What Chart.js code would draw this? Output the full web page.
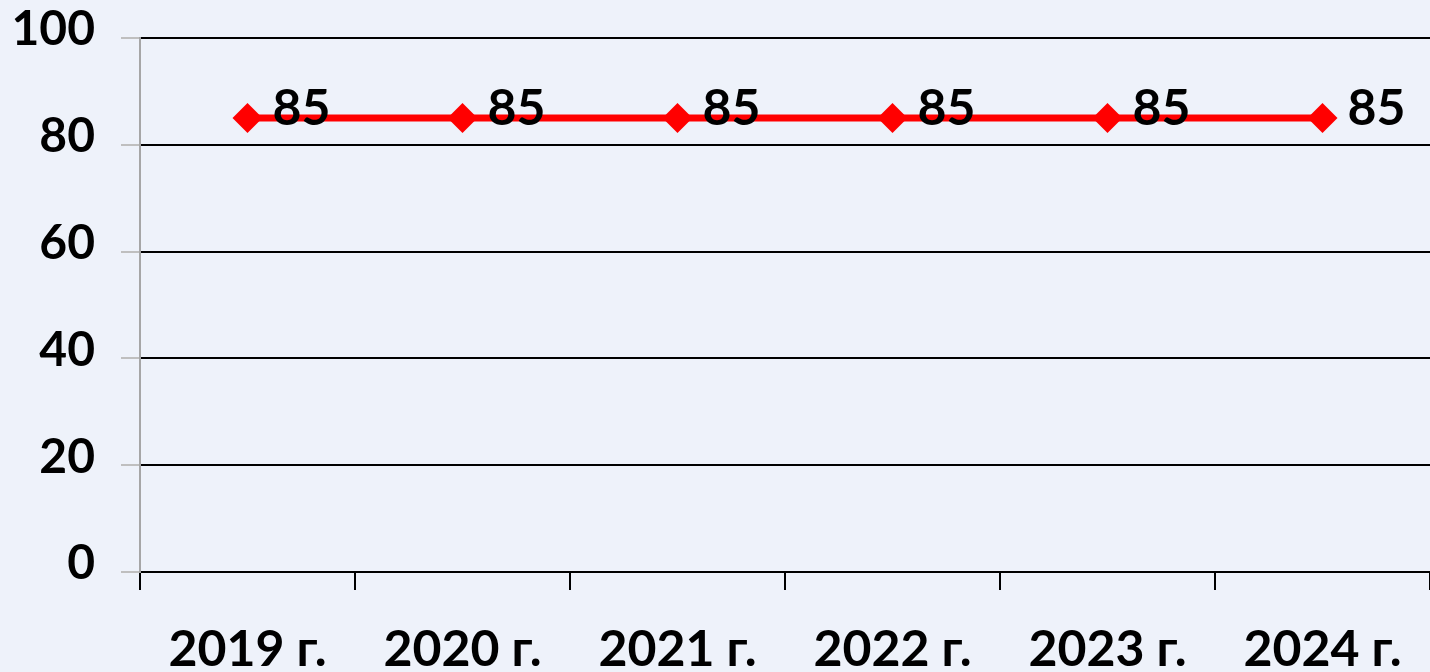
<!DOCTYPE html>
<html>
<head>
<meta charset="utf-8">
<script src="https://cdn.jsdelivr.net/npm/chart.js@4"></script>
<style>
html,body{margin:0;padding:0;background:#eef2fa;}
#wrap{width:1430px;height:672px;position:relative;}
</style>
</head>
<body>
<div id="wrap"><canvas id="c"></canvas></div>
<script>
const categories = ["2019 г.", "2020 г.", "2021 г.", "2022 г.", "2023 г.", "2024 г."];
const values = [85, 85, 85, 85, 85, 85];
const yTicks = [0, 20, 40, 60, 80, 100];

const FONT = "Lato, 'Noto Sans', sans-serif";

const valueLabels = {
  id: 'valueLabels',
  afterDatasetsDraw(chart) {
    const ctx = chart.ctx;
    const meta = chart.getDatasetMeta(0);
    ctx.save();
    ctx.font = "bold 50px " + FONT;
    ctx.fillStyle = "#000";
    ctx.textAlign = "left";
    ctx.textBaseline = "middle";
    meta.data.forEach((pt, i) => {
      ctx.fillText(String(values[i]), pt.x + 25, pt.y - 9);
    });
    ctx.restore();
  }
};

new Chart(document.getElementById('c'), {
  type: 'line',
  data: {
    labels: categories,
    datasets: [{
      data: values,
      borderColor: '#ff0000',
      backgroundColor: '#ff0000',
      borderWidth: 7,
      pointStyle: 'rectRot',
      pointRadius: 15,
      pointHoverRadius: 15,
      pointBackgroundColor: '#ff0000',
      pointBorderWidth: 0,
      tension: 0
    }]
  },
  options: {
    responsive: true,
    maintainAspectRatio: false,
    animation: false,
    layout: { autoPadding: false, padding: { top: 38, right: 0, left: 0, bottom: 0 } },
    plugins: { legend: { display: false }, tooltip: { enabled: false } },
    scales: {
      x: {
        offset: true,
        grid: { offset: true, drawOnChartArea: false, color: '#000', tickColor: '#000', lineWidth: 2, tickLength: 18 },
        border: { color: '#000', width: 2 },
        ticks: { font: { family: FONT, size: 50, weight: 'bold' }, color: '#000', padding: 30, maxRotation: 0, autoSkip: false },
        afterFit(scale) { scale.height = 100; scale.paddingLeft = 0; scale.paddingRight = 0; }
      },
      y: {
        min: 0, max: 100,
        afterBuildTicks(scale) { scale.ticks = yTicks.map(v => ({ value: v })); },
        grid: { color: '#000', tickColor: '#bfbfbf', lineWidth: 2, tickLength: 19 },
        border: { color: '#a6a6a6', width: 2 },
        ticks: { font: { family: FONT, size: 48, weight: 'bold' }, color: '#000', padding: 26, labelOffset: -8 },
        afterFit(scale) { scale.width = 140; scale.paddingTop = 0; scale.paddingBottom = 0; }
      }
    }
  },
  plugins: [valueLabels]
});
</script>
</body>
</html>
